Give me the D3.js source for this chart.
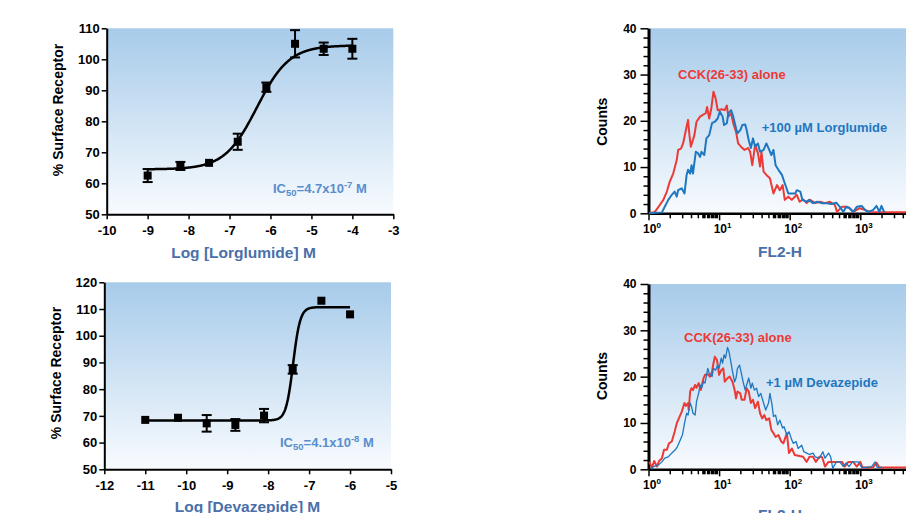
<!DOCTYPE html>
<html>
<head>
<meta charset="utf-8">
<script src="https://d3js.org/d3.v7.min.js"></script>
<style>
  body { margin: 0; background: #fff; }
  svg { display: block; }
</style>
</head>
<body>
<svg id="fig" width="906" height="513"></svg>
<script>
// ---- dose response: lorglumide ----
const lorgLog = [-9, -8.2, -7.5, -6.8, -6.1, -5.4, -4.7, -4];
const lorgMean = [62.5, 65.6, 66.6, 73.4, 91, 105, 103.4, 103.4];
const lorgSem = [2.1, 1.3, 0, 2.6, 1.5, 4.4, 2, 3.2];
const lorgFit = { bottom: 64.5, top: 104.5, logIC50: -6.33, hill: 1.1, from: -9, to: -4 };
const lorgXTicks = [-10, -9, -8, -7, -6, -5, -4, -3];
const lorgYTicks = [50, 60, 70, 80, 90, 100, 110];

// ---- dose response: devazepide ----
const devaLog = [-11, -10.2, -9.5, -8.8, -8.1, -7.4, -6.7, -6];
const devaMean = [68.5, 69.3, 67.2, 66.6, 70.1, 87.4, 113.1, 108];
const devaSem = [0, 0, 3.1, 2.2, 2.5, 1.6, 0, 0];
const devaFit = { bottom: 68.3, top: 110.7, logIC50: -7.39, hill: 5, from: -11, to: -6 };
const devaXTicks = [-12, -11, -10, -9, -8, -7, -6, -5];
const devaYTicks = [50, 60, 70, 80, 90, 100, 110, 120];

// ---- flow histograms: [log10 FL2-H, counts] ----
const lorgAlone = [[0.01,0],[0.09,0.3],[0.16,1.8],[0.21,2.9],[0.26,4.7],[0.30,6.8],[0.35,8.6],[0.40,11.5],[0.42,13.7],[0.46,14],[0.49,15.1],[0.53,18],[0.56,20.2],[0.58,16.9],[0.60,14.4],[0.65,16.9],[0.68,19.8],[0.73,20.9],[0.78,21.4],[0.81,21.6],[0.83,23],[0.86,20.5],[0.89,22.7],[0.92,26.3],[0.95,24.9],[0.98,22.3],[1.04,22.5],[1.08,22.3],[1.11,23.3],[1.13,20.9],[1.17,21.6],[1.20,19.5],[1.24,17.6],[1.27,15.1],[1.31,14.4],[1.36,13.7],[1.41,14.1],[1.44,13.3],[1.47,10.4],[1.51,14.8],[1.55,13],[1.58,10.1],[1.60,13.3],[1.63,9],[1.67,8.3],[1.72,7.6],[1.77,4.3],[1.82,6.1],[1.86,5],[1.90,6.1],[1.93,2.9],[1.98,3.6],[2.03,2.9],[2.10,4],[2.14,2.5],[2.19,3],[2.24,2.2],[2.29,2.9],[2.36,2.2],[2.43,2.5],[2.50,2.2],[2.57,2.5],[2.64,1.8],[2.67,0.3],[2.74,1.4],[2.81,1.4],[2.85,1.1],[2.90,0.3],[2.99,1.1],[3.07,0.7],[3.14,0.3],[3.65,0.2]];
const lorgPlus = [[0.01,0],[0.19,0.2],[0.23,1.4],[0.28,2.9],[0.33,4],[0.37,4.7],[0.40,3.6],[0.42,5],[0.47,5.4],[0.51,4.3],[0.54,8.3],[0.56,9.4],[0.59,8.6],[0.61,10.4],[0.63,8.6],[0.67,13.3],[0.70,13],[0.73,12.2],[0.75,13.3],[0.79,12.6],[0.82,16.2],[0.86,16.9],[0.90,19.5],[0.94,19.8],[0.98,20.5],[1.01,22],[1.05,20.9],[1.07,19.1],[1.11,19.5],[1.13,21.6],[1.17,22.3],[1.20,20.9],[1.24,18.4],[1.26,17.3],[1.30,18],[1.33,19.1],[1.37,19.2],[1.39,18],[1.42,15.8],[1.45,14.1],[1.48,16.2],[1.51,14.4],[1.55,15.1],[1.58,13.3],[1.63,13.7],[1.67,15.1],[1.71,13.7],[1.74,12.6],[1.77,13.7],[1.80,10.4],[1.84,9.4],[1.89,8.3],[1.93,6.5],[1.98,4.3],[2.02,4.3],[2.08,4.3],[2.10,5],[2.15,4.7],[2.18,2.9],[2.24,2.5],[2.27,2.9],[2.33,2.2],[2.39,2.5],[2.45,2.2],[2.51,2.2],[2.59,2],[2.66,2.3],[2.71,1.4],[2.76,0.3],[2.80,1.4],[2.84,1.2],[2.90,0.3],[2.95,1.4],[3.02,1.6],[3.07,0.7],[3.11,0.3],[3.18,0.7],[3.23,1.6],[3.27,0.3],[3.30,1.6],[3.34,0.2]];
const devaAlone = [[0.01,1.6],[0.05,0.4],[0.08,1.8],[0.12,0.6],[0.15,1.8],[0.19,2.4],[0.22,4.2],[0.26,4.2],[0.29,5.6],[0.33,6],[0.37,8.1],[0.40,9.9],[0.43,11],[0.47,12.4],[0.51,14.3],[0.53,13.7],[0.56,14.3],[0.57,12.8],[0.59,16.8],[0.61,17.5],[0.63,17.1],[0.66,18.2],[0.68,17.6],[0.71,18.6],[0.74,17.1],[0.78,19.7],[0.80,20.4],[0.84,20.5],[0.87,20],[0.90,21.1],[0.92,22.9],[0.94,24.3],[0.97,23.6],[1.00,20.4],[1.03,21.4],[1.06,21.8],[1.08,18.9],[1.12,19.7],[1.15,20],[1.19,18.9],[1.22,17.1],[1.24,15.3],[1.26,16.8],[1.30,16.4],[1.32,15],[1.36,15],[1.39,17.5],[1.42,16.8],[1.45,14.3],[1.48,15],[1.51,13.2],[1.55,14.6],[1.58,12.1],[1.61,11],[1.64,11.7],[1.67,10.6],[1.71,11],[1.74,8.5],[1.77,7.8],[1.80,7],[1.84,7.4],[1.88,6],[1.91,5.6],[1.96,7.8],[1.99,3.5],[2.03,4.5],[2.07,3.1],[2.19,2.7],[2.24,1.6],[2.28,2.7],[2.33,2.7],[2.37,1.6],[2.42,2.7],[2.46,2.6],[2.50,0.6],[2.55,1.6],[2.67,1.6],[2.74,1.6],[2.78,0.6],[2.83,1.6],[2.90,1.6],[2.95,0.6],[3.00,1.6],[3.03,0.4],[3.18,0.4],[3.23,1.4],[3.27,0.4],[3.65,0.4]];
const devaPlus = [[0.05,0],[0.07,0.6],[0.14,0.9],[0.19,1.6],[0.23,2.4],[0.28,2.7],[0.33,3.5],[0.38,4.2],[0.41,4.9],[0.45,6.3],[0.48,7.4],[0.51,9.9],[0.54,12.1],[0.56,11.7],[0.59,14.3],[0.61,13.5],[0.63,12.1],[0.66,11.7],[0.68,14.6],[0.71,16.4],[0.73,18.2],[0.75,17.5],[0.78,18.9],[0.80,18.6],[0.84,21.8],[0.86,20.7],[0.90,20],[0.92,21.8],[0.95,21.4],[0.98,22.5],[1.00,21.8],[1.03,24],[1.05,22.9],[1.07,24.7],[1.09,24],[1.12,26.3],[1.14,25.4],[1.17,22.9],[1.19,21.1],[1.22,18.9],[1.24,19.7],[1.26,21.8],[1.29,22.5],[1.32,20.4],[1.34,18.9],[1.37,17.1],[1.39,18.2],[1.42,19.7],[1.45,17.5],[1.47,18.6],[1.50,17.1],[1.53,17.5],[1.56,15.7],[1.59,16.4],[1.63,14.3],[1.66,12.8],[1.70,14.3],[1.72,16.4],[1.75,13.9],[1.77,11.4],[1.80,11.7],[1.83,9.6],[1.86,10.6],[1.90,8.9],[1.92,9.2],[1.96,7.4],[1.99,8.1],[2.03,6.3],[2.05,5.6],[2.09,6],[2.12,4.5],[2.17,5.2],[2.20,3.8],[2.24,3.5],[2.28,3.2],[2.33,3.5],[2.36,2.7],[2.42,2.4],[2.47,3.8],[2.50,2.4],[2.55,3.5],[2.58,2.7],[2.61,0.2],[2.66,1.6],[2.71,1.6],[2.76,0.6],[2.80,1.4],[2.84,0.6],[2.89,1.6],[2.97,1.6],[3.02,0.4],[3.08,0.4],[3.16,0.6],[3.21,1.6],[3.24,0.4],[3.31,0.4]];
const histXDomain = [1, 10000];
const histDecades = [1, 10, 100, 1000];
const histYTicks = [0, 10, 20, 30, 40];

const FONT = '"Liberation Sans", Arial, Helvetica, sans-serif';
const TITLE_BLUE = "#4a6fa9";
const IC50_BLUE = "#5a8dcc";
const RED = "#ec3a36";
const BLUE = "#1f77c0";

const svg = d3.select("#fig").attr("font-family", FONT);

const grad = svg.append("defs").append("linearGradient")
  .attr("id", "plotBg")
  .attr("x1", 0).attr("y1", 0).attr("x2", 0).attr("y2", 1);
grad.append("stop").attr("offset", "0%").attr("stop-color", "#a7cbea");
grad.append("stop").attr("offset", "100%").attr("stop-color", "#f8fbfe");

function styleAxis(sel, lineWidth, fontSize) {
  sel.attr("font-family", FONT).attr("font-size", fontSize).attr("font-weight", "bold");
  sel.select(".domain").attr("stroke", "#000").attr("stroke-width", lineWidth);
  sel.selectAll(".tick line").attr("stroke", "#000").attr("stroke-width", 1.5);
  sel.selectAll(".tick text").attr("fill", "#000");
}

function drawDose(cfg) {
  const box = cfg.box;
  const x = d3.scaleLinear().domain(d3.extent(cfg.xTicks)).range([box.left, box.right]);
  const y = d3.scaleLinear().domain(d3.extent(cfg.yTicks)).range([box.bottom, box.top]);
  const g = svg.append("g");

  g.append("rect")
    .attr("x", box.left).attr("y", box.top)
    .attr("width", box.right - box.left).attr("height", box.bottom - box.top)
    .attr("fill", "url(#plotBg)");

  const fit = cfg.fit;
  const model = v => fit.bottom + (fit.top - fit.bottom) / (1 + Math.pow(10, (fit.logIC50 - v) * fit.hill));
  g.append("path")
    .datum(d3.range(fit.from, fit.to + 1e-9, 0.01))
    .attr("d", d3.line().x(d => x(d)).y(d => y(model(d))))
    .attr("fill", "none").attr("stroke", "#000").attr("stroke-width", 2.5);

  const pts = cfg.logs.map((v, i) => ({ x: v, m: cfg.means[i], e: cfg.sems[i] }));
  const withErr = pts.filter(d => d.e > 0);
  const bars = g.append("g").attr("stroke", "#000").attr("stroke-width", 2);
  bars.selectAll("line.v").data(withErr).join("line").attr("class", "v")
    .attr("x1", d => x(d.x)).attr("x2", d => x(d.x))
    .attr("y1", d => y(d.m - d.e)).attr("y2", d => y(d.m + d.e));
  bars.selectAll("line.top").data(withErr).join("line").attr("class", "top")
    .attr("x1", d => x(d.x) - 5).attr("x2", d => x(d.x) + 5)
    .attr("y1", d => y(d.m + d.e)).attr("y2", d => y(d.m + d.e));
  bars.selectAll("line.bot").data(withErr).join("line").attr("class", "bot")
    .attr("x1", d => x(d.x) - 5).attr("x2", d => x(d.x) + 5)
    .attr("y1", d => y(d.m - d.e)).attr("y2", d => y(d.m - d.e));
  g.selectAll("rect.pt").data(pts).join("rect").attr("class", "pt")
    .attr("x", d => x(d.x) - 4).attr("y", d => y(d.m) - 4)
    .attr("width", 8).attr("height", 8).attr("fill", "#000");

  g.append("g").attr("transform", `translate(0,${box.bottom})`)
    .call(d3.axisBottom(x).tickValues(cfg.xTicks).tickSize(5).tickSizeOuter(0).tickPadding(6).tickFormat(d => String(d)))
    .call(s => styleAxis(s, 2, 13));
  g.append("g").attr("transform", `translate(${box.left},0)`)
    .call(d3.axisLeft(y).tickValues(cfg.yTicks).tickSize(5).tickSizeOuter(0).tickPadding(2).tickFormat(d => String(d)))
    .call(s => styleAxis(s, 2, 13));

  g.append("text")
    .attr("transform", `translate(${cfg.yTitlePos[0]},${cfg.yTitlePos[1]}) rotate(-90)`)
    .attr("text-anchor", "middle").attr("font-size", 14).attr("font-weight", "bold")
    .text("% Surface Receptor");
  g.append("text")
    .attr("x", cfg.xTitlePos[0]).attr("y", cfg.xTitlePos[1])
    .attr("text-anchor", "middle").attr("font-size", 15.5).attr("font-weight", "bold")
    .attr("fill", TITLE_BLUE).text(cfg.xTitle);

  const ic = g.append("text")
    .attr("x", cfg.icPos[0]).attr("y", cfg.icPos[1])
    .attr("font-size", 13).attr("font-weight", "bold").attr("fill", IC50_BLUE);
  ic.append("tspan").text("IC");
  ic.append("tspan").attr("font-size", 9.5).attr("dy", 3).text("50");
  ic.append("tspan").attr("dy", -3).text("=" + cfg.icMantissa + "x10");
  ic.append("tspan").attr("font-size", 9.5).attr("dy", -5).text(cfg.icExp);
  ic.append("tspan").attr("dy", 5).text(" M");
}

function drawHist(cfg) {
  const box = cfg.box;
  const x = d3.scaleLog().domain(histXDomain).range([box.left, box.left + 4 * 70.6]);
  const y = d3.scaleLinear().domain(d3.extent(histYTicks)).range([box.bottom, box.top]);
  const g = svg.append("g");

  g.append("rect")
    .attr("x", box.left).attr("y", box.top)
    .attr("width", 906 - box.left).attr("height", box.bottom - box.top)
    .attr("fill", "url(#plotBg)");

  // minor ticks first, majors with labels on top
  const minor = x.ticks().filter(v => !histDecades.includes(v) && x(v) < 906);
  const heavy = v => Math.round(v / Math.pow(10, Math.floor(Math.log10(v) + 1e-9))) >= 6;
  const xMinor = g.append("g").attr("transform", `translate(0,${box.bottom})`)
    .call(d3.axisBottom(x).tickValues(minor).tickSize(5).tickSizeOuter(0).tickFormat(""));
  xMinor.select(".domain").remove();
  xMinor.selectAll(".tick line").attr("stroke", "#000")
    .attr("stroke-width", d => heavy(d) ? 3.5 : 1.5);

  const xMajor = g.append("g").attr("transform", `translate(0,${box.bottom})`)
    .call(d3.axisBottom(x).tickValues(histDecades).tickSize(7).tickSizeOuter(0).tickPadding(4).tickFormat(""))
    .call(s => styleAxis(s, 2.5, 12));
  xMajor.selectAll(".tick text")
    .attr("dx", 3)
    .call(t => {
      t.append("tspan").text("10");
      t.append("tspan").attr("font-size", 8).attr("dy", -5).text(d => Math.round(Math.log10(d)));
    });

  const yMinor = g.append("g").attr("transform", `translate(${box.left},0)`)
    .call(d3.axisLeft(y).tickValues(d3.range(0, 41, 2).filter(v => v % 10)).tickSize(5).tickSizeOuter(0).tickFormat(""));
  yMinor.select(".domain").remove();
  yMinor.selectAll(".tick line").attr("stroke", "#000").attr("stroke-width", 1.5);
  g.append("g").attr("transform", `translate(${box.left},0)`)
    .call(d3.axisLeft(y).tickValues(histYTicks).tickSize(8).tickSizeOuter(0).tickPadding(4))
    .call(s => styleAxis(s, 3, 12));

  const line = d3.line().x(d => x(Math.pow(10, d[0]))).y(d => y(d[1]));
  g.append("path").datum(cfg.alone).attr("d", line)
    .attr("fill", "none").attr("stroke", RED).attr("stroke-width", 2).attr("stroke-linejoin", "round");
  g.append("path").datum(cfg.plus).attr("d", line)
    .attr("fill", "none").attr("stroke", BLUE).attr("stroke-width", cfg.plusWidth).attr("stroke-linejoin", "round");

  g.append("text")
    .attr("transform", `translate(${cfg.yTitlePos[0]},${cfg.yTitlePos[1]}) rotate(-90)`)
    .attr("text-anchor", "middle").attr("font-size", 14).attr("font-weight", "bold")
    .text("Counts");
  g.append("text")
    .attr("x", cfg.xTitlePos[0]).attr("y", cfg.xTitlePos[1])
    .attr("text-anchor", "middle").attr("font-size", 15.5).attr("font-weight", "bold")
    .attr("fill", TITLE_BLUE).text("FL2-H");

  g.append("text").attr("x", cfg.aloneLabel[0]).attr("y", cfg.aloneLabel[1])
    .attr("font-size", 13).attr("font-weight", "bold").attr("fill", RED)
    .text("CCK(26-33) alone");
  g.append("text").attr("x", cfg.plusLabel[0]).attr("y", cfg.plusLabel[1])
    .attr("font-size", 13).attr("font-weight", "bold").attr("fill", BLUE)
    .text(cfg.plusText);
}

drawDose({
  box: { left: 106.7, right: 393.3, top: 28.3, bottom: 214.3 },
  xTicks: lorgXTicks, yTicks: lorgYTicks,
  logs: lorgLog, means: lorgMean, sems: lorgSem, fit: lorgFit,
  xTitle: "Log [Lorglumide] M", xTitlePos: [243.5, 258.3], yTitlePos: [63, 110],
  icMantissa: "4.7", icExp: "-7", icPos: [273, 193.3],
});

drawDose({
  box: { left: 104.3, right: 391, top: 282.3, bottom: 469.3 },
  xTicks: devaXTicks, yTicks: devaYTicks,
  logs: devaLog, means: devaMean, sems: devaSem, fit: devaFit,
  xTitle: "Log [Devazepide] M", xTitlePos: [247.5, 511.5], yTitlePos: [61, 373],
  icMantissa: "4.1", icExp: "-8", icPos: [280, 446.7],
});

drawHist({
  box: { left: 648.5, top: 28.3, bottom: 213.3 },
  alone: lorgAlone, plus: lorgPlus, plusWidth: 2,
  plusText: "+100 \u00b5M Lorglumide",
  aloneLabel: [678, 79], plusLabel: [761.7, 132.3],
  yTitlePos: [606.5, 121.7], xTitlePos: [780, 256.7],
});

drawHist({
  box: { left: 648.5, top: 284, bottom: 469.3 },
  alone: devaAlone, plus: devaPlus, plusWidth: 1.3,
  plusText: "+1 \u00b5M Devazepide",
  aloneLabel: [684, 341.7], plusLabel: [766, 386.7],
  yTitlePos: [606.5, 376], xTitlePos: [780, 520.3],
});
</script>
</body>
</html>
